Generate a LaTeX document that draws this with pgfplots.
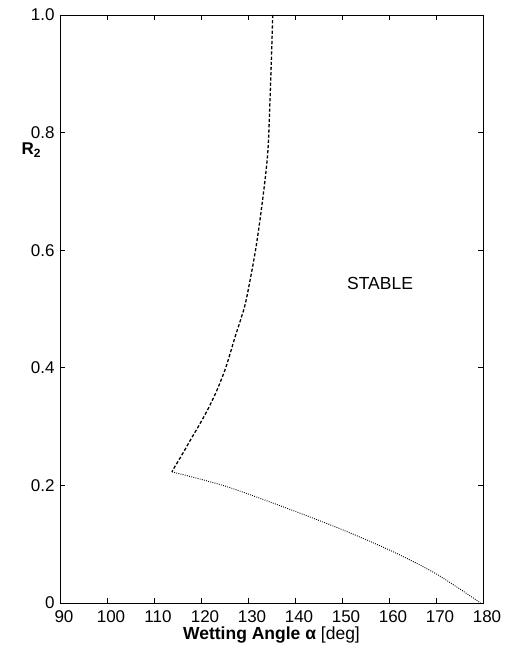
\documentclass[border=0pt]{standalone}
\usepackage{pgfplots}
\pgfplotsset{compat=1.18}
\usepackage{fontspec}
\setmainfont{Liberation Sans}
\begin{document}
\begin{tikzpicture}
\begin{axis}[
  scale only axis, width=423pt, height=588pt,
  xmin=90, xmax=180, ymin=0, ymax=1,
  clip=false,
  xtick={90,100,...,180},
  ytick={0,0.2,0.4,0.6,0.8,1.0},
  yticklabels={0,0.2,0.4,0.6,0.8,1.0},
  tick align=inside, major tick length=5pt,
  tick style={black, line width=0.8pt},
  axis line style={line width=0.9pt},
  ticklabel style={font=\fontsize{17}{20}\selectfont},
  /pgf/number format/assume math mode=true,
  xticklabel style={yshift=-4pt, xshift=4pt},
  yticklabel style={xshift=-2pt},
  xlabel={\textbf{Wetting Angle α} [deg]},
  xlabel style={font=\fontsize{17.5}{20}\selectfont, yshift=3pt},
]
\addplot[black, line width=1.3pt, dash pattern=on 3.2pt off 2pt, smooth, tension=0.5] coordinates {
  (135.26,1.000) (135.04,0.940) (134.68,0.855) (134.20,0.765)
  (133.10,0.685) (131.60,0.600) (129.60,0.515) (128.40,0.481)
  (127.23,0.452) (125.30,0.401) (123.40,0.362) (121.50,0.330)
  (119.79,0.305) (118.10,0.282) (116.17,0.255) (114.30,0.230)
  (113.83,0.223)
};
\addplot[black, line width=0.9pt, dash pattern=on 0.9pt off 1.3pt, smooth, tension=0.5] coordinates {
  (113.83,0.223) (125.47,0.198) (139.64,0.157) (150.28,0.124)
  (160.91,0.087) (170.15,0.049) (179.50,0.000)
};
\node[font=\fontsize{17.5}{20}\selectfont] at (axis cs:158.1,0.544) {STABLE};
\node[font=\fontsize{17}{20}\selectfont\bfseries] at (axis cs:90,0.77) [xshift=-29pt] {R\raisebox{-0.35ex}{\fontsize{12}{14}\selectfont\bfseries 2}};
\end{axis}
\pgfresetboundingbox
\path (-60pt,-55pt) rectangle (448pt,603pt);
\end{tikzpicture}
\end{document}
